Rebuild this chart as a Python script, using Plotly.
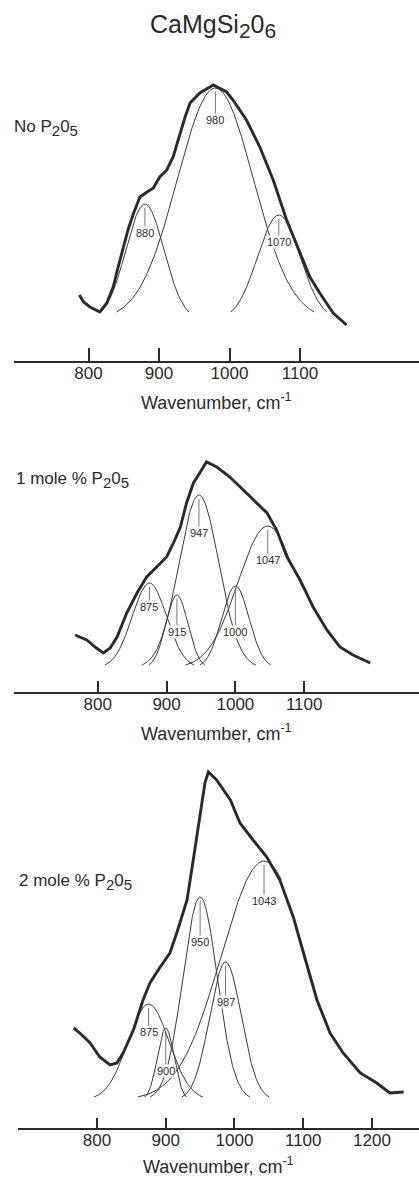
import numpy as np
import plotly.graph_objects as go

W, H = 419, 1178
INK = "#2a2a2a"
FONT = "Liberation Sans, Arial, sans-serif"

# ---------------- measured spectra (wavenumber in cm-1, intensity in arbitrary units) ----------------
p1_wn = [787, 793, 802, 816, 826, 835, 842, 849, 856, 864, 873, 883, 892, 901, 911, 920,
         930, 937, 944, 958, 977, 996, 1005, 1024, 1043, 1062, 1081, 1100, 1114, 1128, 1147, 1166]
p1_int = [66, 59, 54, 49, 58, 74, 94, 114, 131, 148, 164, 169, 173, 184, 191, 204,
          228, 244, 258, 268, 276, 269, 261, 241, 214, 181, 141, 108, 84, 68, 48, 36]

p2_wn = [767, 784, 798, 808, 818, 828, 842, 857, 871, 886, 900, 910, 920, 929, 939,
         949, 958, 973, 992, 1007, 1026, 1046, 1060, 1075, 1094, 1113, 1133, 1152, 1171, 1196]
p2_int = [57, 52, 44, 39, 44, 55, 79, 99, 115, 125, 135, 149, 165, 189, 209,
          220, 230, 225, 215, 205, 192, 179, 162, 135, 112, 85, 62, 45, 37, 29]

p3_wn = [766, 775, 790, 804, 819, 829, 838, 853, 867, 877, 892, 906, 916, 931, 940, 950, 957,
         962, 974, 994, 1008, 1027, 1047, 1066, 1086, 1100, 1120, 1139, 1158, 1183, 1207, 1226, 1246]
p3_int = [100, 95, 85, 71, 63, 65, 75, 98, 128, 145, 161, 175, 195, 228, 268, 311, 345,
          356, 348, 328, 305, 288, 271, 248, 210, 176, 128, 95, 75, 55, 45, 35, 36]

# ---------------- fitted Gaussian bands ----------------
p1_centers = [880, 980, 1070]
p1_amp = [116, 232, 105]
p1_sigma = [27, 54, 30]
p1_base = 41

p2_centers = [875, 915, 947, 1000, 1047]
p2_amp = [85, 73, 173, 82, 142]
p2_sigma = [25, 16, 29, 20, 43]
p2_base = 24

p3_centers = [875, 900, 950, 987, 1043]
p3_amp = [96, 72, 203, 138, 239]
p3_sigma = [30, 12, 25, 23, 62]
p3_base = 28

# ---------------- labels ----------------
def sub(t, size):
    return f"<sub><span style='font-size:{size}px'>{t}</span></sub>"

title_text = "CaMgSi" + sub("2", 21) + "0" + sub("6", 21)
panel_labels = ["No P" + sub("2", 15) + "0" + sub("5", 15),
                "1 mole % P" + sub("2", 15) + "0" + sub("5", 15),
                "2 mole % P" + sub("2", 15) + "0" + sub("5", 15)]
x_title = "Wavenumber, cm<sup>-1</sup>"
ticks_short = [800, 900, 1000, 1100]
ticks_long = [800, 900, 1000, 1100, 1200]

panels = [
    dict(wn=p1_wn, inten=p1_int, c=p1_centers, a=p1_amp, s=p1_sigma, b=p1_base,
         label=panel_labels[0], ticks=ticks_short),
    dict(wn=p2_wn, inten=p2_int, c=p2_centers, a=p2_amp, s=p2_sigma, b=p2_base,
         label=panel_labels[1], ticks=ticks_short),
    dict(wn=p3_wn, inten=p3_int, c=p3_centers, a=p3_amp, s=p3_sigma, b=p3_base,
         label=panel_labels[2], ticks=ticks_long),
]

# ---------------- page geometry (pixels) ----------------
# right_stop: the outermost band is drawn only until it joins the measured trace
geom = [
    dict(x0=14, y_axis=361, y_top=45, xr=[694.3, 1268.8], ticklen=13, cut=8,
         drops=[29, 32, 27], label_xy=(12, 128), title_y=401, right_stop={}),
    dict(x0=14, y_axis=692, y_top=440, xr=[678.2, 1266.9], ticklen=11, cut=3,
         drops=[24, 37, 38, 46, 34], label_xy=(14, 480), title_y=732, right_stop={1047: 1080}),
    dict(x0=18, y_axis=1128, y_top=760, xr=[685.1, 1268.4], ticklen=10, cut=3,
         drops=[28, 43, 45, 40, 40], label_xy=(17, 882), title_y=1165, right_stop={1043: 1068}),
]

fig = go.Figure()
annotations = []
layout_axes = {}

for i, (p, g) in enumerate(zip(panels, geom)):
    sfx = "" if i == 0 else str(i + 1)
    xref, yref = "x" + sfx, "y" + sfx

    # individual Gaussian components, drawn until they sink to the cut level
    for c, a, s in zip(p["c"], p["a"], p["s"]):
        half = s * np.sqrt(2 * np.log(a / g["cut"]))
        hi = min(c + half, g["right_stop"].get(c, c + half))
        xs = np.linspace(c - half, hi, 240)
        ys = p["b"] + a * np.exp(-((xs - c) ** 2) / (2 * s ** 2))
        fig.add_trace(go.Scatter(x=xs, y=ys, mode="lines", xaxis=xref, yaxis=yref,
                                 line=dict(color="#3a3a3a", width=1.0),
                                 hoverinfo="skip", showlegend=False))

    # observed spectrum
    fig.add_trace(go.Scatter(x=p["wn"], y=p["inten"], mode="lines", xaxis=xref, yaxis=yref,
                             line=dict(color=INK, width=2.9), showlegend=False))

    # band position labels with leader lines
    for c, a, d in zip(p["c"], p["a"], g["drops"]):
        annotations.append(dict(
            x=c, y=p["b"] + a, xref=xref, yref=yref, text=str(c),
            showarrow=True, arrowhead=0, arrowwidth=0.8, arrowcolor="#555",
            ax=0, ay=d, standoff=4, bgcolor="white", borderpad=0,
            font=dict(family=FONT, size=11, color=INK)))

    # panel caption
    lx, ly = g["label_xy"]
    annotations.append(dict(x=lx / W, y=1 - ly / H, xref="paper", yref="paper",
                            text=p["label"], showarrow=False, xanchor="left", yanchor="middle",
                            font=dict(family=FONT, size=17, color=INK)))
    # axis title
    annotations.append(dict(x=(g["x0"] + W) / 2 / W, y=1 - g["title_y"] / H,
                            xref="paper", yref="paper", text=x_title, showarrow=False,
                            xanchor="center", yanchor="middle",
                            font=dict(family=FONT, size=18, color=INK)))

    layout_axes["xaxis" + sfx] = dict(
        domain=[g["x0"] / W, 1], range=g["xr"], anchor=yref,
        showline=True, linecolor=INK, linewidth=1.5,
        ticks="inside", ticklen=g["ticklen"], tickwidth=1.5, tickcolor=INK,
        tickvals=p["ticks"], ticktext=[str(t) for t in p["ticks"]],
        tickfont=dict(family=FONT, size=17, color=INK), ticklabelstandoff=-4,
        showgrid=False, zeroline=False, fixedrange=True)
    layout_axes["yaxis" + sfx] = dict(
        domain=[1 - g["y_axis"] / H, 1 - g["y_top"] / H],
        range=[0, g["y_axis"] - g["y_top"]], anchor=xref,
        visible=False, fixedrange=True)

annotations.append(dict(x=213 / W, y=1 - 26 / H, xref="paper", yref="paper",
                        text=title_text, showarrow=False, xanchor="center", yanchor="middle",
                        font=dict(family=FONT, size=25, color=INK)))

fig.update_layout(
    width=W, height=H, margin=dict(l=0, r=0, t=0, b=0),
    paper_bgcolor="white", plot_bgcolor="white",
    showlegend=False, annotations=annotations, **layout_axes)

fig.write_html("out.html")
